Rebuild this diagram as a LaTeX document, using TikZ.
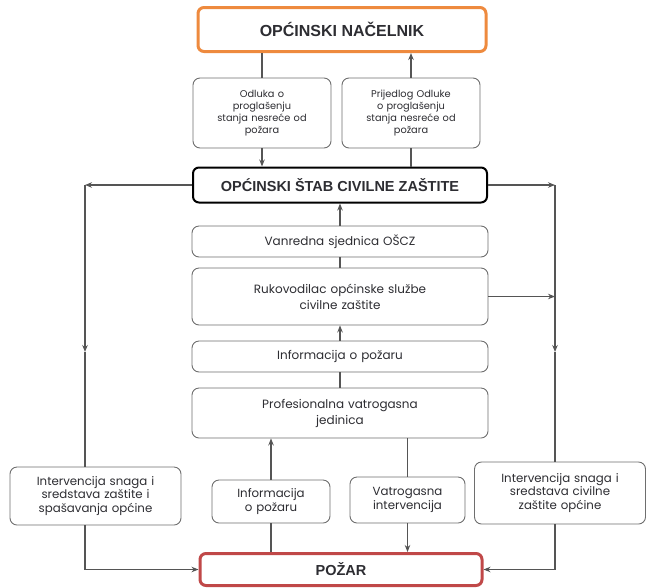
\documentclass[tikz,border=0pt]{standalone}
\usepackage{fontspec}
\setmainfont{Poppins}
\newfontfamily\titlefont{Liberation Sans}
\usetikzlibrary{arrows.meta}
\definecolor{orangeframe}{RGB}{238,138,62}
\definecolor{redframe}{RGB}{192,72,72}
\definecolor{linegray}{RGB}{85,85,85}
\definecolor{textgray}{RGB}{45,45,50}
\tikzset{
  box/.style={draw=linegray!85, fill=white, rounded corners=7pt, line width=0.9pt,
    align=center, text=textgray, inner sep=2pt},
  headbox/.style={box, rounded corners=6pt, font=\titlefont\bfseries\fontsize{14.5}{16}\selectfont},
  smallbox/.style={box, text width=#1, font=\fontsize{9.8}{12}\selectfont},
  midbox/.style={box, minimum width=296pt, text width=200pt, font=\fontsize{12}{16}\selectfont},
  sidebox/.style={box, text width=#1, font=\fontsize{11.8}{13.5}\selectfont},
  conn/.style={draw=linegray, line width=1.1pt},
  arr/.style={conn, -{Stealth[length=7pt,width=5.5pt]}}
}
\begin{document}
\begin{tikzpicture}[x=1pt, y=-1pt]
\useasboundingbox (0,0) rectangle (647,587);

\node[headbox, draw=orangeframe, line width=3pt, minimum width=288pt, minimum height=44pt,
  font=\titlefont\bfseries\fontsize{16}{18}\selectfont] (nacelnik) at (342,29.5) {OPĆINSKI NAČELNIK};
\node[smallbox=126pt, minimum width=138pt, minimum height=70pt] (odluka) at (262,113)
  {Odluka o\\ proglašenju\\ stanja nesreće od\\ požara};
\node[smallbox=126pt, minimum width=138pt, minimum height=70pt] (prijedlog) at (411,113)
  {Prijedlog Odluke\\ o proglašenju\\ stanja nesreće od\\ požara};
\node[headbox, draw=black, line width=2pt, minimum width=294pt, minimum height=35pt] (stab) at (340,185)
  {OPĆINSKI ŠTAB CIVILNE ZAŠTITE};

\node[midbox, minimum height=31pt] (vanredna) at (340,241.5) {Vanredna sjednica OŠCZ};
\node[midbox, minimum height=57pt] (rukovodilac) at (340,296.5)
  {Rukovodilac općinske službe\\ civilne zaštite\\[-2pt]};
\node[midbox, minimum height=31pt] (informacija) at (340,356.5) {Informacija o požaru};
\node[midbox, minimum height=50pt] (profesionalna) at (340,413)
  {Profesionalna vatrogasna\\ jedinica};

\node[sidebox=165pt, minimum width=171pt, minimum height=58pt] (lijevo) at (95.5,496)
  {Intervencija snaga i\\ sredstava zaštite i\\ spašavanja općine};
\node[sidebox=112pt, minimum width=118pt, minimum height=43pt] (infomala) at (271,501.5)
  {Informacija\\ o požaru};
\node[sidebox=110pt, minimum width=115pt, minimum height=46pt] (vatrogasna) at (407.5,500)
  {Vatrogasna\\ intervencija};
\node[sidebox=165pt, minimum width=171pt, minimum height=62pt] (desno) at (560,493)
  {Intervencija snaga i\\ sredstava civilne\\ zaštite općine};

\node[headbox, draw=redframe, line width=3pt, minimum width=282pt, minimum height=32pt] (pozar) at (341,569.5)
  {POŽAR};

\coordinate (lkut) at (85,185);
\coordinate (lsred) at (85,352);
\coordinate (dkut) at (555,185);
\coordinate (dsred) at (555,352);

% nacelnik <-> stab
\draw[conn] (nacelnik.south -| odluka) -- (odluka.north);
\draw[arr] (odluka.south) -- (odluka.south |- stab.north);
\draw[conn] (stab.north -| prijedlog) -- (prijedlog.south);
\draw[arr] (prijedlog.north) -- (prijedlog.north |- nacelnik.south);

% srednji stupac
\draw[arr] (vanredna.north) -- (stab.south);
\draw[conn] (rukovodilac.north) -- (vanredna.south);
\draw[arr] (informacija.north) -- (rukovodilac.south);
\draw[conn] (profesionalna.north) -- (informacija.south);

% lijeva grana
\draw[arr] (stab.west) -- (lkut);
\draw[arr] (lkut) -- (lsred);
\draw[conn] (lsred) -- (lijevo.north -| lkut);
\draw[arr] (lijevo.south -| lkut) |- (pozar.west);

% desna grana
\draw[arr] (stab.east) -- (dkut);
\draw[arr] (rukovodilac.east) -- (rukovodilac.east -| dkut);
\draw[arr] (dkut) -- (dsred);
\draw[conn] (dsred) -- (desno.north -| dkut);
\draw[arr] (desno.south -| dkut) |- (pozar.east);

% pozar
\draw[conn] (pozar.north -| infomala) -- (infomala.south);
\draw[arr] (infomala.north) -- (infomala.north |- profesionalna.south);
\draw[conn] (profesionalna.south -| vatrogasna) -- (vatrogasna.north);
\draw[arr] (vatrogasna.south) -- (vatrogasna.south |- pozar.north);
\end{tikzpicture}
\end{document}
